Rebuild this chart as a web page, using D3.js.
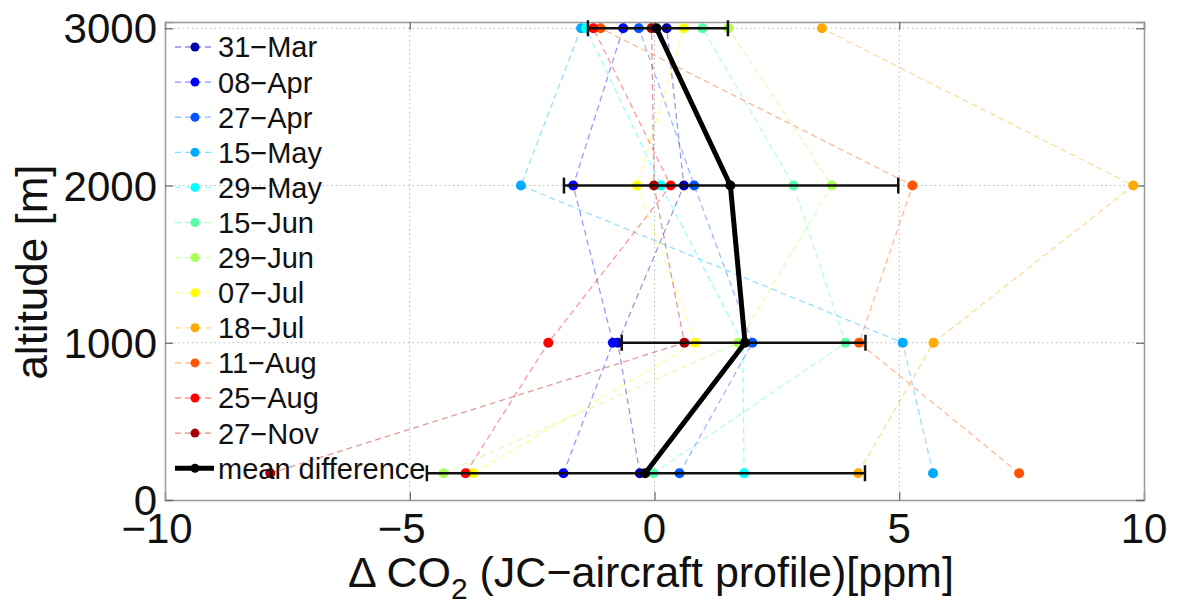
<!DOCTYPE html>
<html><head><meta charset="utf-8">
<script src="https://cdn.jsdelivr.net/npm/d3@7"></script>
<style>
body{margin:0;background:#fff;}
svg{display:block;font-family:"Liberation Sans",Arial,Helvetica,sans-serif;}
</style>
</head><body>
<svg id="chart" width="1180" height="607"></svg>
<script>
// ---- data ----
const altitudes = [170, 1000, 2000, 3000];
const seriesNames = ["31\u2212Mar","08\u2212Apr","27\u2212Apr","15\u2212May","29\u2212May","15\u2212Jun","29\u2212Jun","07\u2212Jul","18\u2212Jul","11\u2212Aug","25\u2212Aug","27\u2212Nov"];
const s31Mar = [-0.30, -0.75,  0.60,  0.25];
const s08Apr = [-1.86, -0.85, -1.66, -0.64];
const s27Apr = [ 0.51,  2.00,  0.81, -0.32];
const s15May = [ 5.69,  5.07, -2.73, -1.50];
const s29May = [ 1.83,  1.80,  0.13, -1.40];
const s15Jun = [-0.02,  3.90,  2.84,  0.98];
const s29Jun = [-4.31,  1.71,  3.62,  1.51];
const s07Jul = [-3.70,  0.84, -0.36,  0.60];
const s18Jul = [ 4.16,  5.70,  9.78,  3.42];
const s11Aug = [ 7.45,  4.18,  5.27, -1.10];
const s25Aug = [-3.86, -2.17,  0.33, -1.25];
const s27Nov = [-7.85,  0.61, -0.01, -0.06];
const seriesValues = [s31Mar,s08Apr,s27Apr,s15May,s29May,s15Jun,s29Jun,s07Jul,s18Jul,s11Aug,s25Aug,s27Nov];
const meanName = "mean difference";
const meanValues = [-0.19, 1.85, 1.55, 0.04];
const errLow  = [-4.65, -0.67, -1.85, -1.36];
const errHigh = [ 4.30,  4.31,  4.98,  1.50];
const xTicks = [-10, -5, 0, 5, 10];
const yTicks = [0, 1000, 2000, 3000];
const xTickLabels = ["\u221210", "\u22125", "0", "5", "10"];
const yTickLabels = ["0", "1000", "2000", "3000"];

// ---- styles ----
const colors = ["#0000aa","#0000ff","#0055ff","#00aaff","#00ffff","#55ffaa","#aaff55","#ffff00","#ffaa00","#ff5500","#ff0000","#aa0000"];

const svg = d3.select("#chart");
const L = 165, R = 1144, T = 22, B = 500;
const x = d3.scaleLinear().domain([-10, 10]).range([L, R]);
const y = d3.scaleLinear().domain([0, 3040]).range([B, T]);

// grid
const grid = svg.append("g");
grid.selectAll("line.gx").data(xTicks.filter(v => v > -10 && v < 10)).join("line")
  .attr("x1", d => x(d)).attr("x2", d => x(d)).attr("y1", T).attr("y2", B)
  .attr("stroke", "#b8b8b8").attr("stroke-width", 1).attr("stroke-dasharray", "1.5,3");
grid.selectAll("line.gy").data(yTicks.filter(v => v > 0)).join("line")
  .attr("x1", L).attr("x2", R).attr("y1", d => y(d)).attr("y2", d => y(d))
  .attr("stroke", "#b8b8b8").attr("stroke-width", 1).attr("stroke-dasharray", "1.5,3");

// axes (inside ticks, box)
const axB = d3.axisBottom(x).tickValues(xTicks).tickSize(-8).tickFormat(() => "");
const axT = d3.axisTop(x).tickValues(xTicks).tickSize(-8).tickFormat(() => "");
const axL = d3.axisLeft(y).tickValues(yTicks).tickSize(-8).tickFormat(() => "");
const axR = d3.axisRight(y).tickValues(yTicks).tickSize(-8).tickFormat(() => "");
[[axB, `translate(0,${B})`], [axT, `translate(0,${T})`], [axL, `translate(${L},0)`], [axR, `translate(${R},0)`]].forEach(([a, t]) => {
  const g = svg.append("g").attr("transform", t).call(a);
  g.select(".domain").attr("stroke", "#999").attr("stroke-width", 1.5);
  g.selectAll(".tick line").attr("stroke", "#666").attr("stroke-width", 1.2);
});

// tick labels
svg.append("g").selectAll("text").data(yTicks).join("text")
  .attr("x", L - 8).attr("y", d => y(d)).attr("dy", "0.36em")
  .attr("text-anchor", "end").attr("font-size", 42).attr("fill", "#111")
  .text((d, i) => yTickLabels[i]);
svg.append("g").selectAll("text").data(xTicks).join("text")
  .attr("x", d => x(d)).attr("y", 543)
  .attr("dx", (d) => d < 0 ? -8 : 0)
  .attr("text-anchor", "middle").attr("font-size", 42).attr("fill", "#111")
  .text((d, i) => xTickLabels[i]);

// axis titles
const xl = svg.append("text").attr("x", 651).attr("y", 587).attr("text-anchor", "middle")
  .attr("font-size", 43).attr("fill", "#111");
xl.append("tspan").text("\u0394 CO");
xl.append("tspan").attr("font-size", 30).attr("dy", 12).text("2");
xl.append("tspan").attr("dy", -12).text(" (JC\u2212aircraft profile)[ppm]");

svg.append("text").attr("transform", "translate(47,272) rotate(-90)")
  .attr("text-anchor", "middle").attr("font-size", 44).attr("fill", "#111")
  .text("altitude [m]");

// series
const line = d3.line().x(d => x(d[0])).y(d => y(d[1]));
const sg = svg.append("g");
seriesValues.forEach((vals, i) => {
  const pts = vals.map((v, j) => [v, altitudes[j]]);
  sg.append("path").attr("d", line(pts)).attr("fill", "none")
    .attr("stroke", colors[i]).attr("stroke-width", 1.3).attr("stroke-opacity", 0.4)
    .attr("stroke-dasharray", "6,4");
});
seriesValues.forEach((vals, i) => {
  sg.append("g").selectAll("circle").data(vals).join("circle")
    .attr("cx", d => x(d)).attr("cy", (d, j) => y(altitudes[j])).attr("r", 5)
    .attr("fill", colors[i]);
});

// mean with error bars
const eg = svg.append("g");
altitudes.forEach((a, j) => {
  eg.append("line").attr("x1", x(errLow[j])).attr("x2", x(errHigh[j]))
    .attr("y1", y(a)).attr("y2", y(a)).attr("stroke", "#111").attr("stroke-width", 2.5);
  [errLow[j], errHigh[j]].forEach(v => {
    eg.append("line").attr("x1", x(v)).attr("x2", x(v)).attr("y1", y(a) - 8).attr("y2", y(a) + 8)
      .attr("stroke", "#111").attr("stroke-width", 2.5);
  });
});
eg.append("path").attr("d", line(meanValues.map((v, j) => [v, altitudes[j]])))
  .attr("fill", "none").attr("stroke", "#000").attr("stroke-width", 5).attr("stroke-linejoin", "round");
eg.selectAll("circle").data(meanValues).join("circle")
  .attr("cx", d => x(d)).attr("cy", (d, j) => y(altitudes[j])).attr("r", 5).attr("fill", "#000");

// legend
const lg = svg.append("g");
const ly = i => 47 + i * 35.1;
seriesNames.forEach((n, i) => {
  lg.append("line").attr("x1", 175).attr("x2", 214).attr("y1", ly(i)).attr("y2", ly(i))
    .attr("stroke", colors[i]).attr("stroke-width", 1.3).attr("stroke-opacity", 0.45).attr("stroke-dasharray", "6,4");
  lg.append("circle").attr("cx", 195).attr("cy", ly(i)).attr("r", 4.5).attr("fill", colors[i]);
  lg.append("text").attr("x", 218).attr("y", ly(i)).attr("dy", "0.36em")
    .attr("font-size", 29).attr("fill", "#111").text(n);
});
const mi = seriesNames.length;
lg.append("line").attr("x1", 175).attr("x2", 214).attr("y1", ly(mi)).attr("y2", ly(mi))
  .attr("stroke", "#000").attr("stroke-width", 5);
lg.append("circle").attr("cx", 195).attr("cy", ly(mi)).attr("r", 4.5).attr("fill", "#000");
lg.append("text").attr("x", 218).attr("y", ly(mi)).attr("dy", "0.36em")
  .attr("font-size", 29).attr("fill", "#111").text(meanName);
</script>
</body></html>
